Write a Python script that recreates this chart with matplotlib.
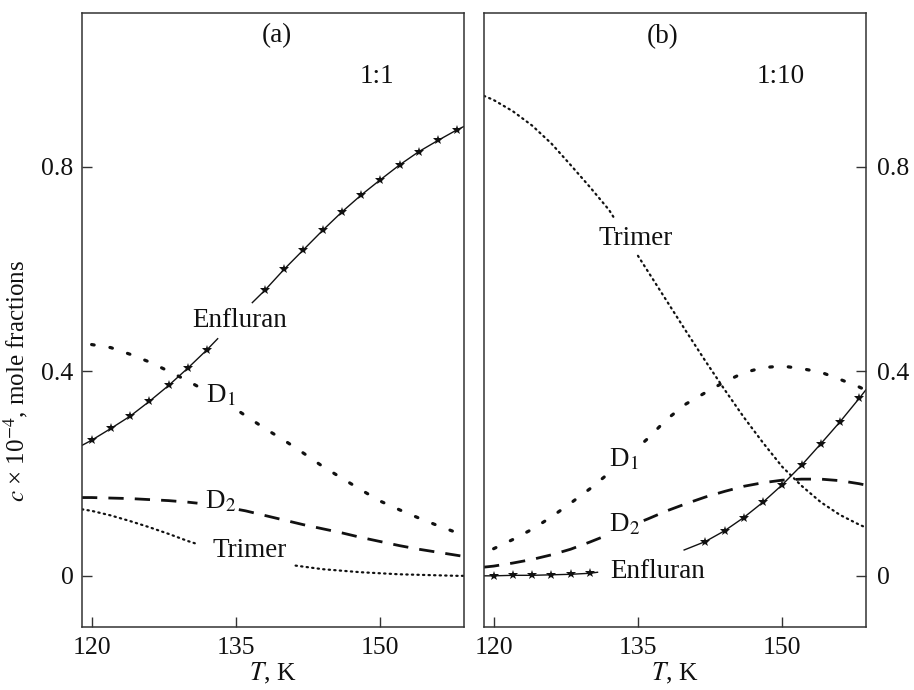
import matplotlib
matplotlib.use('Agg')
import matplotlib.pyplot as plt
import numpy as np

plt.rcParams['font.family'] = ['Liberation Serif', 'DejaVu Serif']
plt.rcParams['mathtext.fontset'] = 'stix'
plt.rcParams['font.size'] = 18.5

# temperature grid, K
T = [119, 120, 122, 124, 126, 128, 130, 132, 134, 136, 138,
     140, 142, 144, 146, 148, 150, 152, 154, 156, 158, 159]

# (a) 1:1
enf_a = [0.255, 0.265, 0.288, 0.312, 0.341, 0.372, 0.406, 0.442, 0.481, 0.521, 0.558,
         0.599, 0.637, 0.675, 0.711, 0.744, 0.774, 0.803, 0.829, 0.851, 0.872, 0.881]
d1_a = [np.nan, 0.452, 0.446, 0.433, 0.418, 0.400, 0.381, 0.360, 0.338, 0.313, 0.288,
        0.265, 0.240, 0.214, 0.191, 0.168, 0.146, 0.129, 0.113, 0.098, 0.084, 0.078]
d2_a = [0.153, 0.153, 0.152, 0.151, 0.149, 0.147, 0.144, 0.140, 0.134, 0.127, 0.118,
        0.109, 0.100, 0.092, 0.084, 0.075, 0.067, 0.059, 0.052, 0.046, 0.040, 0.037]
tri_a = [0.130, 0.127, 0.118, 0.107, 0.095, 0.082, 0.068, 0.056, 0.045, 0.036, 0.029,
         0.023, 0.018, 0.013, 0.010, 0.007, 0.005, 0.003, 0.002, 0.001, 0.000, 0.000]

# (b) 1:10
enf_b = [0.000, 0.000, 0.001, 0.001, 0.002, 0.003, 0.005, 0.010, 0.017, 0.026, 0.037,
         0.052, 0.067, 0.088, 0.114, 0.144, 0.178, 0.216, 0.258, 0.301, 0.347, 0.371]
d1_b = [np.nan, 0.053, 0.071, 0.091, 0.115, 0.142, 0.170, 0.201, 0.234, 0.268, 0.306,
        0.336, 0.358, 0.379, 0.397, 0.407, 0.410, 0.405, 0.398, 0.384, 0.369, 0.360]
d2_b = [0.017, 0.019, 0.025, 0.032, 0.041, 0.052, 0.066, 0.081, 0.096, 0.111, 0.127,
        0.141, 0.154, 0.165, 0.175, 0.182, 0.187, 0.189, 0.189, 0.186, 0.180, 0.176]
tri_b = [0.938, 0.930, 0.908, 0.880, 0.845, 0.803, 0.760, 0.715, 0.655, 0.596, 0.537,
         0.478, 0.420, 0.364, 0.310, 0.260, 0.213, 0.176, 0.144, 0.119, 0.100, 0.092]

# gaps in the curves where the labels sit (K)
gaps_a = {'enf': (133.1, 136.7), 'd1': (131.5, 135.5), 'd2': (131.0, 135.3), 'tri': (130.9, 141.2)}
gaps_b = {'enf': (130.8, 139.8), 'd1': (131.8, 135.7), 'd2': (131.2, 135.6), 'tri': (132.5, 135.0)}

INK = '#111111'


def cut(t, v, gap):
    t = np.asarray(t, float)
    v = np.asarray(v, float)
    ok = ~np.isnan(v)
    g0, g1 = gap
    v0 = np.interp(g0, t[ok], v[ok])
    v1 = np.interp(g1, t[ok], v[ok])
    left = t < g0
    right = t > g1
    tt = np.concatenate([t[left], [g0, np.nan, g1], t[right]])
    vv = np.concatenate([v[left], [v0, np.nan, v1], v[right]])
    return tt, vv


def draw(ax, enf, d1, d2, tri, gaps):
    t = np.asarray(T, float)
    x, y = cut(T, enf, gaps['enf'])
    ax.plot(x, y, '-', color=INK, lw=1.0)
    # stars every 2 K, none hidden under the label
    m = (t % 2 == 0) & ((t < gaps['enf'][0]) | (t > gaps['enf'][1] + 0.5)) & (t >= 120)
    ax.plot(t[m], np.asarray(enf)[m], '*', color=INK, ms=7, mew=0)
    x, y = cut(T, d1, gaps['d1'])
    ax.plot(x, y, color=INK, lw=2.3, linestyle=(0, (0.8, 5.0)), dash_capstyle='round')
    x, y = cut(T, d2, gaps['d2'])
    ax.plot(x, y, color=INK, lw=2.0, linestyle=(0, (5.5, 4)))
    x, y = cut(T, tri, gaps['tri'])
    ax.plot(x, y, color=INK, lw=1.6, linestyle=(0, (0.6, 1.9)), dash_capstyle='round')


fig = plt.figure(figsize=(9.14, 6.9), dpi=100)
ax_a = fig.add_axes([82 / 914, 63 / 690, 382 / 914, 614 / 690])
ax_b = fig.add_axes([484 / 914, 63 / 690, 382 / 914, 614 / 690])

draw(ax_a, enf_a, d1_a, d2_a, tri_a, gaps_a)
draw(ax_b, enf_b, d1_b, d2_b, tri_b, gaps_b)

for ax in (ax_a, ax_b):
    ax.set_xlim(119, 158.7)
    ax.set_ylim(-0.1, 1.1)
    ax.set_xticks([120, 135, 150])
    ax.set_yticks([0, 0.4, 0.8], ['0', '0.4', '0.8'])
    for s in ax.spines.values():
        s.set_linewidth(1.1)
        s.set_color('#333333')
    ax.tick_params(direction='in', length=7, width=1.0, color='#333333', labelcolor=INK)
    ax.tick_params(axis='x', pad=7)
    ax.set_xlabel(r'$T$, K', color=INK)
    ax.xaxis.set_label_coords(0.5, -0.055)

ax_a.tick_params(axis='y', left=True, right=False, pad=6)
ax_b.tick_params(axis='y', left=False, right=True, labelleft=False, labelright=True, pad=8)

ax_a.set_ylabel(r'$c$ × 10$^{-4}$, mole fractions', color=INK, fontsize=18)
ax_a.yaxis.set_label_coords(-0.135, 0.40)

txt = dict(color=INK, ha='center', va='center', fontsize=19.5)
ax_a.text(139.3, 1.055, '(a)', **txt)
ax_a.text(149.7, 0.976, '1:1', **txt)
ax_a.text(135.4, 0.499, 'Enfluran', **txt)
ax_a.text(133.4, 0.352, r'D$_1$', **txt)
ax_a.text(133.4, 0.145, r'D$_2$', **txt)
ax_a.text(136.4, 0.050, 'Trimer', **txt)

ax_b.text(137.6, 1.054, '(b)', **txt)
ax_b.text(149.8, 0.976, '1:10', **txt)
ax_b.text(134.8, 0.660, 'Trimer', **txt)
ax_b.text(133.5, 0.227, r'D$_1$', **txt)
ax_b.text(133.6, 0.100, r'D$_2$', **txt)
ax_b.text(137.0, 0.008, 'Enfluran', **txt)

plt.savefig('out.png', dpi=100)
